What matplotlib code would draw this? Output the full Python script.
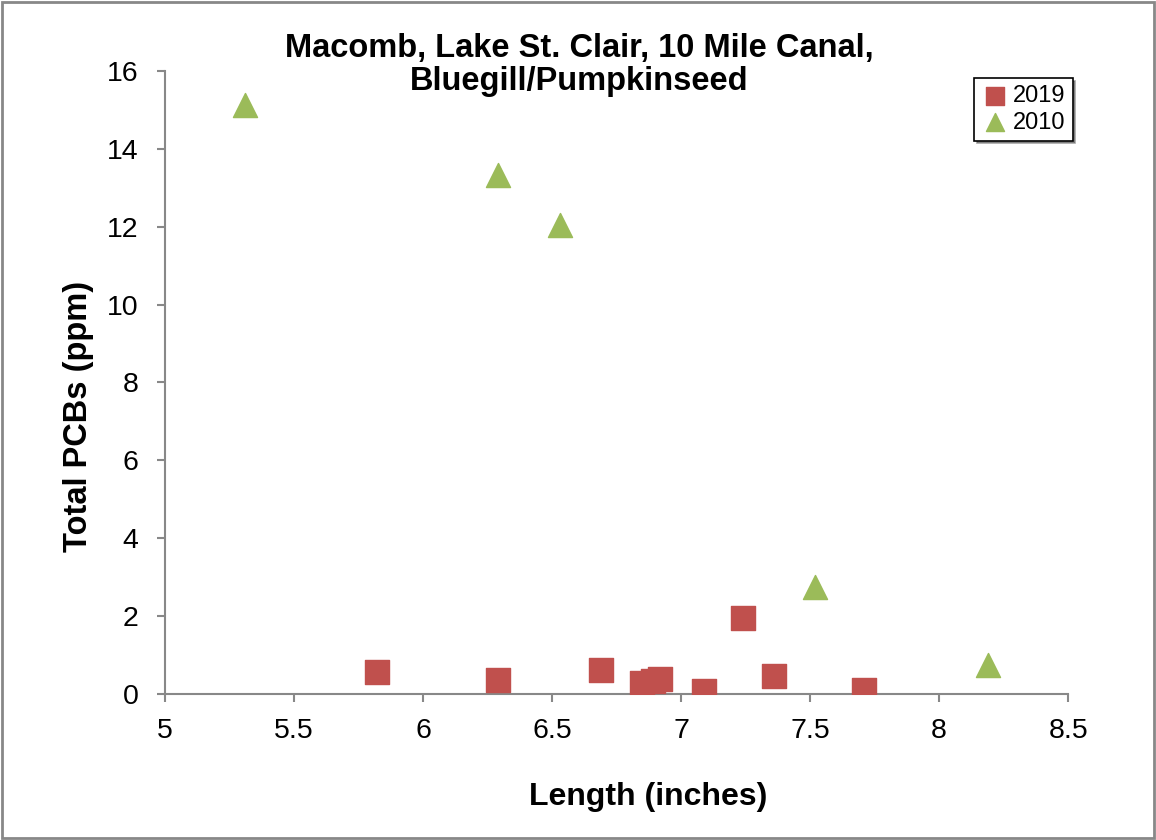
import matplotlib
matplotlib.use('Agg')
import matplotlib.pyplot as plt

plt.rcParams['font.family'] = ['Liberation Sans', 'DejaVu Sans']

# 2019 samples
len_2019 = [5.82, 6.29, 6.69, 6.85, 6.89, 6.92, 7.09, 7.24, 7.36, 7.71]
pcb_2019 = [0.56, 0.36, 0.62, 0.28, 0.33, 0.39, 0.08, 1.95, 0.46, 0.10]

# 2010 samples
len_2010 = [5.31, 6.29, 6.53, 7.52, 8.19]
pcb_2010 = [15.13, 13.33, 12.04, 2.75, 0.74]

fig = plt.figure(figsize=(11.56, 8.4), dpi=100)
ax = fig.add_axes([0.1427, 0.1738, 0.7813, 0.7417])

ax.scatter(len_2019, pcb_2019, marker='s', s=300, color='#C0504D', label='2019', zorder=3)
ax.scatter(len_2010, pcb_2010, marker='^', s=300, color='#9BBB59', label='2010', zorder=3)

ax.set_xlim(5, 8.5)
ax.set_ylim(0, 16)
ax.set_xticks([5, 5.5, 6, 6.5, 7, 7.5, 8, 8.5])
ax.set_xticklabels(['5', '5.5', '6', '6.5', '7', '7.5', '8', '8.5'])
ax.set_yticks(range(0, 17, 2))

for s in ['top', 'right']:
    ax.spines[s].set_visible(False)
for s in ['left', 'bottom']:
    ax.spines[s].set_color('#888888')
    ax.spines[s].set_linewidth(1.5)
ax.tick_params(axis='both', labelsize=20.5, color='#888888', width=1.5, length=6, direction='out')
ax.tick_params(axis='x', pad=11)
ax.tick_params(axis='y', pad=13)

ax.set_xlabel('Length (inches)', fontsize=23, fontweight='bold')
ax.xaxis.set_label_coords(0.535, -0.142)
ax.set_ylabel('Total PCBs (ppm)', fontsize=23.5, fontweight='bold')
ax.yaxis.set_label_coords(-0.079, 0.445)

fig.text(0.501, 1 - 33 / 840, 'Macomb, Lake St. Clair, 10 Mile Canal,\nBluegill/Pumpkinseed',
         fontsize=23.5, fontweight='bold', ha='center', va='top', linespacing=1.1)

leg = ax.legend(loc='upper right', bbox_to_anchor=(1.005, 0.989), borderaxespad=0, fontsize=17,
                frameon=True, fancybox=False, shadow=True, handletextpad=0.15, borderpad=0.3,
                labelspacing=0.2, handlelength=1.2, markerscale=0.75)
leg.get_frame().set_edgecolor('black')
leg.get_frame().set_linewidth(1.2)

# outer border
fig.patches.append(plt.Rectangle((0.002, 0.002), 0.996, 0.996, transform=fig.transFigure,
                                 fill=False, edgecolor='#888888', linewidth=2))

fig.savefig('out.png', dpi=100)
